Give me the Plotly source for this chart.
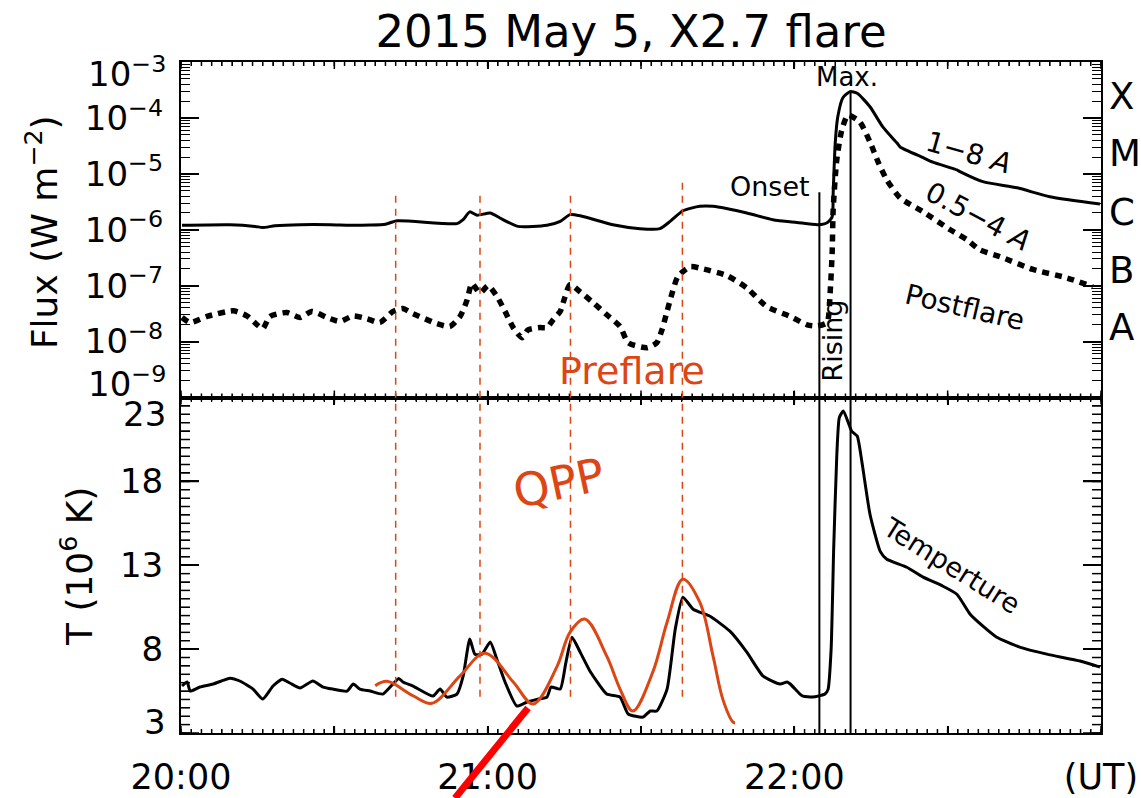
import math
import plotly.graph_objects as go
from plotly.subplots import make_subplots

# ---- time axis: minutes after 20:00 UT ----
X_TICKS = [0, 30, 60, 90, 120, 150, 180]
X_TICKTEXT = ["20:00", "", "21:00", "", "22:00", "", "(UT)"]
X_MINOR = list(range(0, 181, 2))

# GOES 1-8 A flux (log10 W m^-2)
t_long = [0.2, 9.6, 14.5, 16.0, 18.4, 23.3, 29.2, 33.1, 37.0, 40.0, 42.3, 54.0, 55.2,
          56.5, 57.9, 60.5, 62.4, 65.9, 71.6, 74.2, 76.1, 78.1, 84.5, 89.8, 93.7, 95.7,
          98.2, 101.5, 104.1, 110.7, 115.8, 120.5, 124.6, 126.4, 127.4, 127.6, 128.0,
          128.5, 129.5, 130.9, 132.3, 134.8, 137.3, 140.1, 140.7, 145.2, 147.1, 151.8,
          152.4, 156.9, 163.6, 170.0, 179.8]
logf_long = [-5.92, -5.91, -5.94, -5.96, -5.93, -5.91, -5.91, -5.92, -5.915, -5.90, -5.84,
             -5.89, -5.82, -5.68, -5.74, -5.70, -5.79, -5.94, -5.92, -5.85, -5.73, -5.75,
             -5.91, -5.98, -5.98, -5.85, -5.66, -5.58, -5.58, -5.70, -5.82, -5.87, -5.91,
             -5.875, -5.77, -5.34, -4.45, -3.98, -3.64, -3.53, -3.56, -3.80, -4.16, -4.45,
             -4.52, -4.71, -4.79, -4.93, -4.96, -5.14, -5.25, -5.41, -5.54]

# GOES 0.5-4 A flux (log10 W m^-2)
t_short = [0.2, 1.8, 5.1, 10.2, 12.9, 14.9, 16.0, 17.4, 20.7, 23.3, 25.6, 28.6, 31.1, 33.7,
           36.4, 38.9, 41.5, 43.4, 45.4, 50.1, 52.6, 54.6, 56.0, 56.9, 58.5, 60.1, 61.8,
           63.4, 65.0, 66.7, 67.9, 70.2, 71.6, 72.8, 74.2, 75.1, 76.1, 78.1, 80.6, 83.3,
           85.9, 87.5, 91.2, 93.1, 94.1, 95.1, 96.1, 97.2, 99.6, 102.1, 106.8, 110.7, 114.6,
           119.2, 122.5, 124.4, 126.4, 127.0, 127.4, 127.6, 128.3, 129.3, 130.5, 132.8,
           134.8, 136.4, 138.1, 140.7, 145.2, 150.5, 153.8, 156.3, 160.2, 166.7, 173.3, 178.4]
logf_short = [-7.57, -7.66, -7.55, -7.45, -7.54, -7.70, -7.77, -7.55, -7.48, -7.57, -7.46,
              -7.57, -7.64, -7.54, -7.59, -7.66, -7.46, -7.41, -7.50, -7.68, -7.73, -7.55,
              -7.25, -6.96, -7.13, -7.00, -7.19, -7.46, -7.75, -7.93, -7.79, -7.75, -7.75,
              -7.61, -7.46, -7.21, -6.98, -7.11, -7.30, -7.52, -7.73, -8.02, -8.11, -8.02,
              -7.79, -7.46, -7.13, -6.84, -6.66, -6.70, -6.82, -7.04, -7.375, -7.55, -7.70,
              -7.72, -7.66, -7.13, -6.41, -5.64, -4.75, -4.21, -3.95, -4.07, -4.43, -4.79,
              -5.11, -5.43, -5.68, -6.00, -6.18, -6.36, -6.48, -6.71, -6.86, -7.02]

# Temperature (10^6 K)
t_temp = [0.2, 1.2, 1.8, 3.7, 6.3, 9.6, 11.5, 14.1, 16.0, 18.0, 19.8, 21.3, 23.3, 25.8, 27.8,
          29.7, 32.5, 33.7, 35.0, 37.0, 39.5, 42.6, 43.4, 45.4, 49.3, 50.7, 52.0, 54.0, 55.2,
          56.5, 57.5, 58.9, 60.5, 61.8, 63.4, 65.7, 67.7, 69.8, 71.6, 72.4, 74.2, 75.3, 76.5,
          78.1, 80.0, 83.3, 85.9, 87.5, 90.4, 91.8, 93.1, 95.1, 96.7, 98.2, 100.2, 103.5,
          107.4, 110.7, 113.9, 117.2, 118.6, 119.2, 121.1, 121.7, 123.6, 126.0, 126.6, 127.2,
          127.7, 128.3, 128.8, 129.6, 131.2, 132.3, 133.2, 134.8, 136.8, 138.1, 142.0, 145.2,
          149.1, 151.8, 154.4, 156.9, 159.6, 164.1, 169.4, 175.9, 179.8]
temp = [5.80, 6.04, 5.50, 5.74, 5.92, 6.27, 6.10, 5.62, 5.02, 5.80, 6.21, 5.98, 5.68, 6.10,
        5.74, 5.62, 5.50, 5.92, 5.62, 5.50, 5.32, 6.25, 6.04, 5.80, 5.20, 5.62, 5.14, 5.32,
        6.39, 8.60, 7.70, 7.70, 8.42, 7.40, 6.04, 4.61, 4.85, 5.02, 5.14, 5.74, 5.62, 7.20,
        8.71, 7.82, 6.70, 5.32, 5.14, 4.13, 3.95, 4.31, 4.31, 5.62, 9.19, 11.10, 10.38, 9.96,
        9.07, 7.82, 6.39, 5.92, 6.04, 5.92, 5.32, 5.20, 5.14, 5.32, 5.60, 8.00, 14.0, 19.5,
        21.8, 22.2, 21.0, 20.7, 19.2, 16.04, 13.83, 13.36, 12.88, 12.29, 11.75, 11.27, 10.08,
        9.37, 8.71, 8.12, 7.70, 7.29, 6.93]

# QPP fit curve (10^6 K)
t_qpp = [38.0, 40.3, 45.4, 49.1, 54.6, 59.5, 65.0, 68.9, 73.6, 76.1, 79.0, 83.3, 85.9,
         88.4, 92.3, 95.1, 98.2, 101.5, 104.1, 106.0, 108.0, 108.4]
temp_qpp = [5.82, 6.08, 5.22, 4.77, 6.41, 7.76, 6.04, 4.73, 6.99, 9.00, 9.79, 7.58, 5.62,
            4.31, 6.63, 9.60, 12.17, 10.80, 7.58, 5.02, 3.65, 3.60]

# axis tick values
FLUX_EXP = list(range(-9, -2))
FLUX_MINOR_LOG = [e + math.log10(k) for e in range(-9, -3) for k in range(2, 10)]
T_TICKS = [3, 8, 13, 18, 23]
T_MINOR = [3 + 0.5 * i for i in range(41)]

# event times (minutes after 20:00)
qpp_peaks = [42.0, 58.5, 76.2, 98.1]
t_onset = 124.9
t_max = 131.0

ORANGE = "#DC4614"
FONT = "DejaVu Sans"

fig = make_subplots(rows=2, cols=1, shared_xaxes=True, vertical_spacing=0.0)
fig.add_trace(go.Scatter(x=t_long, y=[10 ** v for v in logf_long], mode="lines",
                         line=dict(color="black", width=3, shape="spline", smoothing=0.6)),
              row=1, col=1)
fig.add_trace(go.Scatter(x=t_short, y=[10 ** v for v in logf_short], mode="lines",
                         line=dict(color="black", width=5.5, dash="7px,6px", shape="spline",
                                   smoothing=0.6)),
              row=1, col=1)
fig.add_trace(go.Scatter(x=t_temp, y=temp, mode="lines",
                         line=dict(color="black", width=3, shape="spline", smoothing=0.5)),
              row=2, col=1)
fig.add_trace(go.Scatter(x=t_qpp, y=temp_qpp, mode="lines",
                         line=dict(color=ORANGE, width=3, shape="spline")),
              row=2, col=1)

flux_text = ["", "10<sup>\u22128</sup>", "10<sup>\u22127</sup>", "10<sup>\u22126</sup>",
             "10<sup>\u22125</sup>", "10<sup>\u22124</sup>", ""]

fig.update_layout(
    template="none",
    width=1141, height=798,
    margin=dict(l=181, r=40, t=62, b=65, autoexpand=False),
    paper_bgcolor="white", plot_bgcolor="white",
    showlegend=False,
    font=dict(family=FONT, color="black"),
    title=dict(text="2015 May 5, X2.7 flare", x=631 / 1141, xanchor="center",
               y=1 - 31 / 798, yanchor="middle", xref="container", yref="container",
               font=dict(size=45, family=FONT, color="black")),
)

fig.update_xaxes(range=[0, 180], tickmode="array", tickvals=X_TICKS, ticktext=X_TICKTEXT,
                 ticks="inside", ticklen=7, tickwidth=1.5, tickcolor="black",
                 showline=True, linecolor="black", linewidth=2, mirror="allticks",
                 showgrid=False, zeroline=False, automargin=False,
                 tickfont=dict(size=35, family=FONT, color="black"),
                 minor=dict(dtick=2, tick0=0, ticks="inside", ticklen=4, tickwidth=1.2,
                            tickcolor="black"))
fig.update_xaxes(showticklabels=False, row=1, col=1)
fig.update_xaxes(showticklabels=True, ticklabelstandoff=12, row=2, col=1)

fig.update_yaxes(ticks="inside", ticklen=18, tickwidth=1.5, tickcolor="black",
                 showline=True, linecolor="black", linewidth=2, mirror="allticks",
                 showgrid=False, zeroline=False, automargin=False, ticklabelstandoff=9,
                 tickfont=dict(size=34, family=FONT, color="black"))
fig.update_yaxes(type="log", range=[-9, -3], tickmode="array",
                 tickvals=[10.0 ** e for e in FLUX_EXP], ticktext=flux_text,
                 minor=dict(dtick="D1", ticks="inside", ticklen=9, tickwidth=1.2,
                            tickcolor="black"),
                 row=1, col=1)
fig.update_yaxes(range=[3, 23], tickmode="array", tickvals=T_TICKS,
                 ticktext=["", "8", "13", "18", ""],
                 minor=dict(dtick=0.5, tick0=3, ticks="inside", ticklen=9, tickwidth=1.2,
                            tickcolor="black"),
                 row=2, col=1)

shapes = []
TICK = dict(color="black", width=1.5)
# inward tick marks on all four sides of each panel, placed on the axes' own scales
W_MAJ, W_MIN = 18 / 920, 9 / 920      # y-tick lengths as x-domain fractions
H_MAJ, H_MIN = 7 / 335.5, 4 / 335.5   # x-tick lengths as y-domain fractions
for yref, xdom, major, minor in [("y", "x domain", [float(e) for e in FLUX_EXP], FLUX_MINOR_LOG),
                                 ("y2", "x2 domain", T_TICKS, T_MINOR)]:
    for vals, w in [(major, W_MAJ), (minor, W_MIN)]:
        for v in vals:
            shapes.append(dict(type="line", xref=xdom, yref=yref, x0=0, x1=w, y0=v, y1=v,
                               line=TICK, layer="above"))
            shapes.append(dict(type="line", xref=xdom, yref=yref, x0=1 - w, x1=1, y0=v,
                               y1=v, line=TICK, layer="above"))
for xref, ydom in [("x", "y domain"), ("x2", "y2 domain")]:
    for vals, h in [(X_TICKS, H_MAJ), (X_MINOR, H_MIN)]:
        for v in vals:
            shapes.append(dict(type="line", xref=xref, yref=ydom, x0=v, x1=v, y0=0, y1=h,
                               line=TICK, layer="above"))
            shapes.append(dict(type="line", xref=xref, yref=ydom, x0=v, x1=v, y0=1 - h,
                               y1=1, line=TICK, layer="above"))

# QPP peak markers spanning both panels
for i, tp in enumerate(qpp_peaks):
    top = 0.827 if i == len(qpp_peaks) - 1 else 0.809
    shapes.append(dict(type="line", xref="x", yref="paper", x0=tp, x1=tp, y0=0.054, y1=top,
                       line=dict(color=ORANGE, width=1.5, dash="7px,6px")))
# onset and maximum
shapes.append(dict(type="line", xref="x", yref="paper", x0=t_onset, x1=t_onset, y0=0.0,
                   y1=0.806, line=dict(color="black", width=2)))
shapes.append(dict(type="line", xref="x", yref="paper", x0=t_max, x1=t_max, y0=0.0,
                   y1=0.957, line=dict(color="black", width=2)))
# red pointer stroke
shapes.append(dict(type="line", xref="paper", yref="paper", x0=0.2978, y0=-0.097,
                   x1=0.3772, y1=0.0373, line=dict(color="#FF0000", width=7)))
fig.update_layout(shapes=shapes)

ann = []


def add_text(text, x, y, xref, yref, size, color="black", angle=0, xanchor="center",
             yanchor="middle", **kw):
    ann.append(dict(text=text, x=x, y=y, xref=xref, yref=yref, showarrow=False,
                    textangle=angle, xanchor=xanchor, yanchor=yanchor,
                    font=dict(size=size, color=color, family=FONT), **kw))


# edge tick labels shifted inside the frame
add_text("10<sup>\u22123</sup>", 0, -3.18, "paper", "y", 34, xanchor="right", xshift=-13)
add_text("10<sup>\u22129</sup>", 0, -8.73, "paper", "y", 34, xanchor="right", xshift=-13)
add_text("23", 0, 22.0, "paper", "y2", 34, xanchor="right", xshift=-13)
add_text("3", 0, 3.65, "paper", "y2", 34, xanchor="right", xshift=-13)

# axis titles
add_text("Flux (W m<sup>\u22122</sup>)", -0.151, 0.7466, "paper", "paper", 36, angle=-90)
add_text("T (10<sup>6</sup> K)", -0.113, 0.2474, "paper", "paper", 36, angle=-90)

# GOES classes
for lab, ly in zip(["X", "M", "C", "B", "A"], [-3.62, -4.64, -5.70, -6.72, -7.75]):
    add_text(lab, 1.0, ly, "paper", "y", 37, xanchor="left", xshift=6)

# event labels
add_text("Max.", 130.3, -3.27, "x", "y", 26)
add_text("Onset", 115.2, -5.23, "x", "y", 27)
add_text("1\u22128 <i>A</i>", 154.0, -4.625, "x", "y", 28, angle=16)
add_text("0.5\u22124 <i>A</i>", 155.9, -5.77, "x", "y", 28, angle=28)
add_text("Postflare", 153.4, -7.39, "x", "y", 28, angle=13)
add_text("Rising", 127.4, -7.98, "x", "y", 27, angle=-90)
add_text("Preflare", 88.2, -8.52, "x", "y", 38, color=ORANGE)
add_text("QPP", 74.0, 17.88, "x2", "y2", 46, color=ORANGE, angle=-12)
add_text("Temperture", 150.8, 13.0, "x2", "y2", 27, angle=32)

fig.update_layout(annotations=ann)
fig.write_html("out.html")
